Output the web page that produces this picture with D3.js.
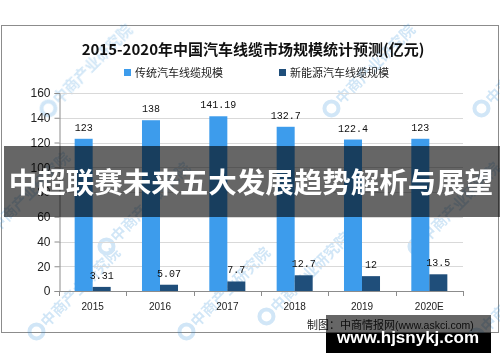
<!DOCTYPE html>
<html lang="zh">
<head>
<meta charset="UTF-8">
<title>2015-2020年中国汽车线缆市场规模统计预测</title>
<script src="https://cdn.jsdelivr.net/npm/d3@7"></script>
<style>
  body { margin: 0; background: #fff; }
  svg { display: block; }
</style>
</head>
<body>
<div id="chart"></div>
<script>
// data
var years = ["2015", "2016", "2017", "2018", "2019", "2020E"];
var seriesNames = ["传统汽车线缆规模", "新能源汽车线缆规模"];
var traditional = [123, 138, 141.19, 132.7, 122.4, 123];
var newEnergy = [3.31, 5.07, 7.7, 12.7, 12, 13.5];
var yTicks = [0, 20, 40, 60, 80, 100, 120, 140, 160];
var colors = ["#3d9cec", "#1f4e7a"];

var W = 500, H = 362;
var cjk = "'Noto Sans CJK SC', 'Noto Sans', sans-serif";

var svg = d3.select("#chart").append("svg")
    .attr("width", W)
    .attr("height", H);

// outer frame
svg.append("rect")
    .attr("x", 1.5).attr("y", 25.5)
    .attr("width", 497).attr("height", 307)
    .attr("fill", "#fff")
    .attr("stroke", "#8c8c8c");

// watermark layer (faint, behind everything else)
var wm = svg.append("g").attr("opacity", 0.22);
var wmSpots = [[52, 112], [335, 112], [485, 112], [-10, 240], [110, 250], [40, 335], [190, 335], [270, 320], [420, 250], [480, 340]];
wmSpots.forEach(function(p) {
  var g = wm.append("g").attr("transform", "translate(" + p[0] + "," + p[1] + ") rotate(-45)");
  g.append("circle").attr("cx", 0).attr("cy", -5).attr("r", 7)
      .attr("fill", "none").attr("stroke", "#2f8fd8").attr("stroke-width", 4);
  g.append("text").attr("x", 10).attr("y", 0)
      .attr("font-family", cjk).attr("font-size", 15).attr("font-weight", "bold")
      .attr("fill", "#2f8fd8").text("中商产业研究院");
});

// title
svg.append("text")
    .attr("x", 253).attr("y", 55)
    .attr("text-anchor", "middle")
    .attr("font-family", cjk)
    .attr("font-size", 15).attr("font-weight", "bold")
    .attr("fill", "#111")
    .text("2015-2020年中国汽车线缆市场规模统计预测(亿元)");

// legend
var legend = svg.append("g");
var legendX = [124, 279];
seriesNames.forEach(function(name, i) {
  legend.append("rect")
      .attr("x", legendX[i]).attr("y", 69)
      .attr("width", 7).attr("height", 7)
      .attr("fill", colors[i]);
  legend.append("text")
      .attr("x", legendX[i] + 11).attr("y", 77)
      .attr("font-family", cjk).attr("font-size", 11)
      .attr("fill", "#222")
      .text(name);
});

// scales
var plot = {left: 59, right: 463, top: 93, bottom: 291};
var x0 = d3.scaleBand().domain(years)
    .range([plot.left, plot.right])
    .paddingInner(0.465).paddingOuter(0.2325);
var x1 = d3.scaleBand().domain([0, 1]).range([0, x0.bandwidth()]);
var y = d3.scaleLinear().domain([0, 160]).range([plot.bottom, plot.top]);

// gridlines
svg.append("g")
    .selectAll("line")
    .data(yTicks.slice(1))
    .enter().append("line")
    .attr("x1", plot.left).attr("x2", plot.right)
    .attr("y1", function(d) { return Math.round(y(d)) + 0.5; })
    .attr("y2", function(d) { return Math.round(y(d)) + 0.5; })
    .attr("stroke", "#d9d9d9").attr("stroke-width", 1.2);

// y axis
var yAxis = svg.append("g")
    .attr("transform", "translate(" + (plot.left + 0.5) + ",0)")
    .call(d3.axisLeft(y).tickValues(yTicks).tickSize(5).tickPadding(4));
yAxis.select(".domain").attr("stroke", "#8c8c8c");
yAxis.selectAll(".tick line").attr("stroke", "#8c8c8c");
yAxis.selectAll("text")
    .attr("font-family", "'Liberation Sans', Arial, sans-serif")
    .attr("font-size", 12).attr("fill", "#222");

// bars
var rows = years.map(function(yr, i) { return {year: yr, vals: [traditional[i], newEnergy[i]]}; });
var groups = svg.append("g").selectAll("g")
    .data(rows)
    .enter().append("g")
    .attr("transform", function(d) { return "translate(" + x0(d.year) + ",0)"; });

groups.selectAll("rect")
    .data(function(d) { return d.vals.map(function(v, k) { return {k: k, v: v}; }); })
    .enter().append("rect")
    .attr("x", function(d) { return x1(d.k); })
    .attr("width", x1.bandwidth())
    .attr("y", function(d) { return y(d.v); })
    .attr("height", function(d) { return y(0) - y(d.v); })
    .attr("fill", function(d) { return colors[d.k]; });

groups.selectAll("text")
    .data(function(d) { return d.vals.map(function(v, k) { return {k: k, v: v}; }); })
    .enter().append("text")
    .attr("x", function(d) { return x1(d.k) + x1.bandwidth() / 2; })
    .attr("y", function(d) { return y(d.v) - 8; })
    .attr("text-anchor", "middle")
    .attr("font-family", "'Liberation Mono', 'DejaVu Sans Mono', monospace")
    .attr("font-size", 10).attr("fill", "#111")
    .text(function(d) { return d.v; });

// x axis with ticks on category boundaries
var xAxis = svg.append("g");
xAxis.append("line")
    .attr("x1", plot.left).attr("x2", plot.right)
    .attr("y1", plot.bottom + 0.5).attr("y2", plot.bottom + 0.5)
    .attr("stroke", "#8c8c8c");
var edges = years.map(function(yr) { return x0(yr) - x0.step() * x0.paddingInner() / 2; });
edges.push(plot.right);
xAxis.selectAll(".edge")
    .data(edges)
    .enter().append("line")
    .attr("class", "edge")
    .attr("x1", function(d) { return Math.round(d) + 0.5; })
    .attr("x2", function(d) { return Math.round(d) + 0.5; })
    .attr("y1", plot.bottom).attr("y2", plot.bottom + 5)
    .attr("stroke", "#8c8c8c");
xAxis.selectAll(".lbl")
    .data(years)
    .enter().append("text")
    .attr("class", "lbl")
    .attr("x", function(d) { return x0(d) + x0.bandwidth() / 2; })
    .attr("y", 310)
    .attr("text-anchor", "middle")
    .attr("font-family", "'Liberation Sans', Arial, sans-serif")
    .attr("font-size", 10).attr("fill", "#222")
    .text(function(d) { return d; });

// source note
var src = svg.append("text")
    .attr("x", 307).attr("y", 329)
    .attr("font-family", cjk).attr("font-size", 11).attr("fill", "#222");
src.append("tspan").text("制图：中商情报网");
src.append("tspan").attr("font-family", "'Liberation Sans', Arial, sans-serif")
    .attr("font-size", 10.5).text("(www.askci.com)");

// banner overlay
svg.append("rect")
    .attr("x", 4).attr("y", 146)
    .attr("width", 496).attr("height", 71)
    .attr("fill", "#000").attr("fill-opacity", 0.6);
svg.append("text")
    .attr("x", 251).attr("y", 193)
    .attr("text-anchor", "middle")
    .attr("font-family", cjk)
    .attr("font-size", 28.5).attr("font-weight", "bold")
    .attr("fill", "#fff")
    .text("中超联赛未来五大发展趋势解析与展望");

// site stamp bottom right
svg.append("rect")
    .attr("x", 326).attr("y", 315)
    .attr("width", 165).attr("height", 18)
    .attr("fill", "#000").attr("fill-opacity", 0.6);
svg.append("rect")
    .attr("x", 326).attr("y", 333)
    .attr("width", 165).attr("height", 20)
    .attr("fill", "#000");
svg.append("text")
    .attr("x", 408).attr("y", 343)
    .attr("text-anchor", "middle")
    .attr("font-family", "'Liberation Sans', Arial, sans-serif")
    .attr("font-size", 17).attr("font-weight", "bold")
    .attr("fill", "#fff")
    .text("www.hjsnykj.com");
</script>
</body>
</html>
